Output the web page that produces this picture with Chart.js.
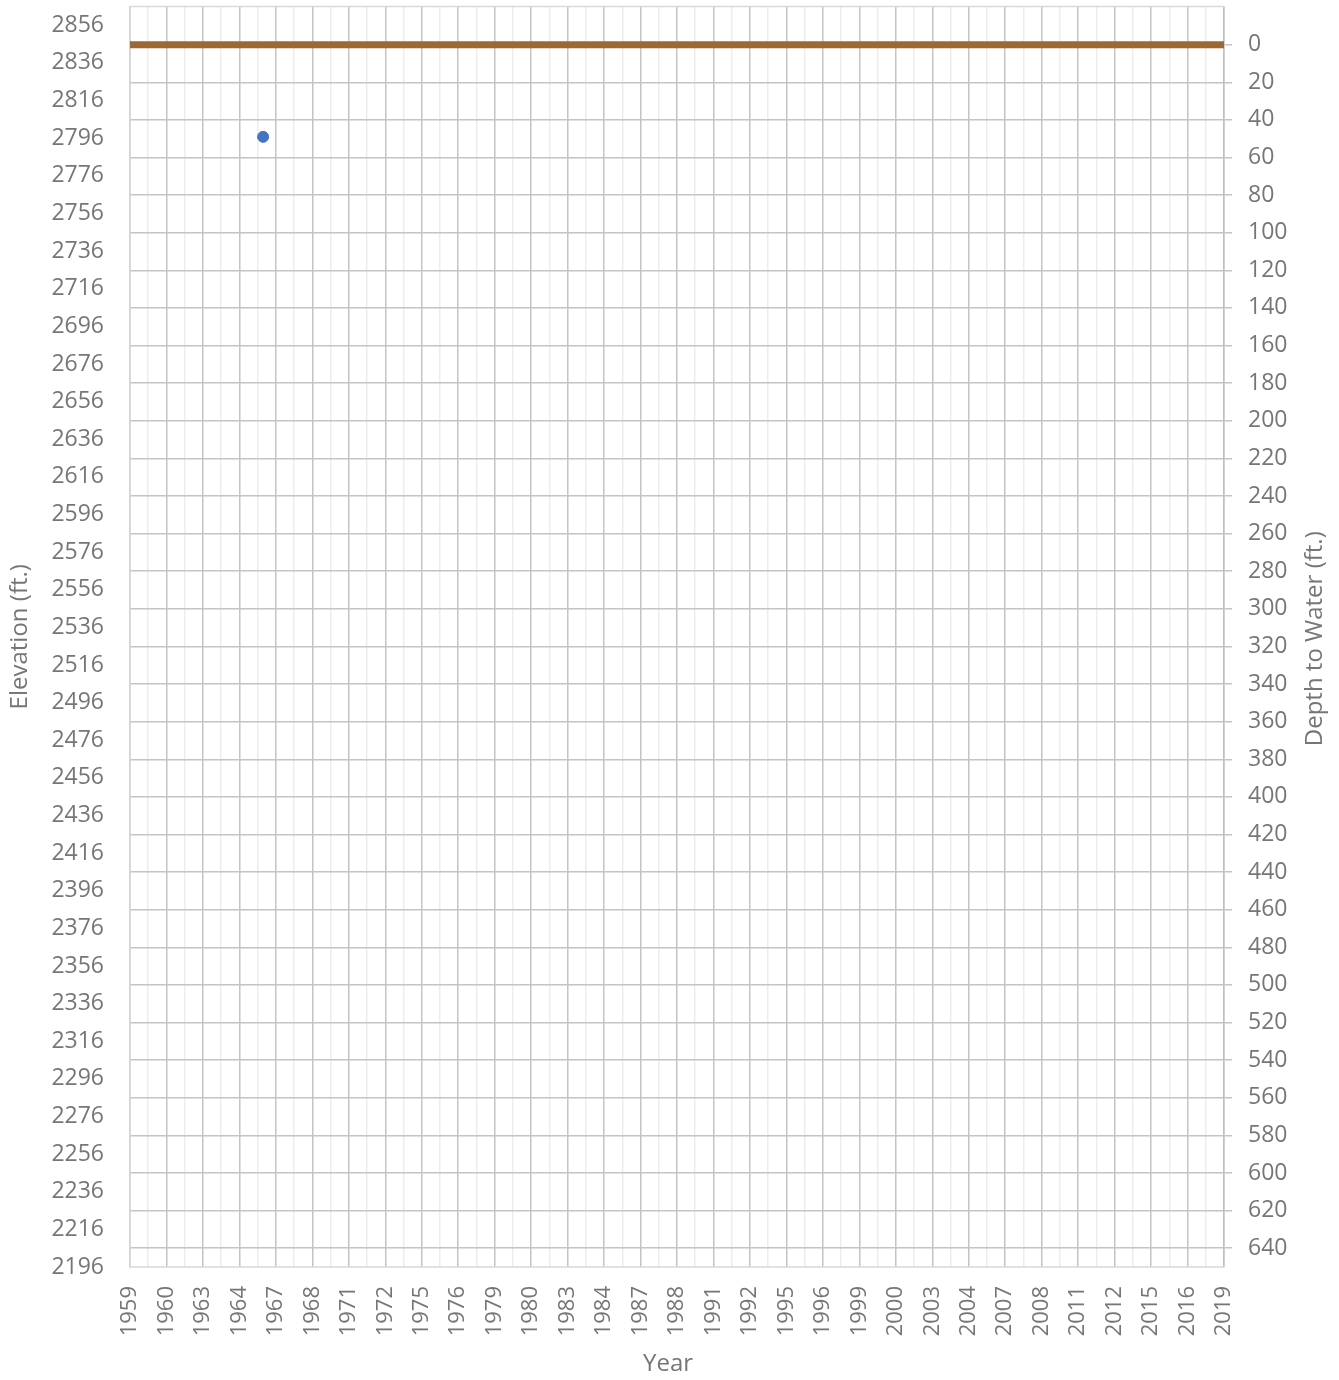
<!DOCTYPE html>
<html>
<head>
<meta charset="utf-8">
<script src="https://cdn.jsdelivr.net/npm/chart.js@4/dist/chart.umd.min.js"></script>
<style>
  html, body { margin: 0; padding: 0; background: #fff; }
  #wrap { width: 1339px; height: 1380px; }
</style>
</head>
<body>
<div id="wrap"><canvas id="chart" width="1339" height="1380"></canvas></div>
<script>
// Year labels shown under each major tick (as printed on the original axis)
const yearLabels = [
  "1959", "1960", "1963", "1964", "1967", "1968", "1971", "1972", "1975", "1976",
  "1979", "1980", "1983", "1984", "1987", "1988", "1991", "1992", "1995", "1996",
  "1999", "2000", "2003", "2004", "2007", "2008", "2011", "2012", "2015", "2016", "2019"
];
const yearStart = 1959;
const yearEnd = 2019;

// Elevation axis (left)
const elevMin = 2196;
const elevMax = 2866;
const elevTicks = [
  2196, 2216, 2236, 2256, 2276, 2296, 2316, 2336, 2356, 2376, 2396, 2416,
  2436, 2456, 2476, 2496, 2516, 2536, 2556, 2576, 2596, 2616, 2636, 2656,
  2676, 2696, 2716, 2736, 2756, 2776, 2796, 2816, 2836, 2856
];

// Depth axis (right, reversed)
const depthMin = -20.3;
const depthMax = 650;
const depthTicks = [
  0, 20, 40, 60, 80, 100, 120, 140, 160, 180, 200, 220, 240, 260, 280, 300, 320,
  340, 360, 380, 400, 420, 440, 460, 480, 500, 520, 540, 560, 580, 600, 620, 640
];

// Measurements: depth to water (ft.)
const measureYears = [1966.3];
const measureDepths = [49];

// Land surface (depth 0 over the whole record)
const landYears = [1959, 2019];
const landDepths = [0, 0];

const GRAY_TEXT = "#767676";
const GRID_MAJOR = "#c4c4c4";
const GRID_MINOR = "#ededed";
const FRAME = "#d9d9d9";
const TITLE_FONT = "24px 'Open Sans'";

// Cadre du graphique (haut, gauche, bas) + titres "Year" et axe droit
const framePlugin = {
  id: "frame",
  beforeDatasetsDraw(chart) {
    const { ctx, chartArea: a } = chart;
    ctx.save();
    ctx.strokeStyle = FRAME;
    ctx.lineWidth = 1.5;
    ctx.beginPath();
    ctx.moveTo(a.right, a.top);
    ctx.lineTo(a.left, a.top);
    ctx.lineTo(a.left, a.bottom);
    ctx.lineTo(a.right, a.bottom);
    ctx.stroke();
    ctx.restore();
  },
  afterDraw(chart) {
    const { ctx, chartArea: a } = chart;
    ctx.save();
    ctx.fillStyle = GRAY_TEXT;
    ctx.font = TITLE_FONT;
    ctx.textAlign = "center";
    ctx.textBaseline = "middle";
    ctx.fillText("Year", 668, 1364);
    ctx.translate(1315, (a.top + a.bottom) / 2 + 2);
    ctx.rotate(-Math.PI / 2);
    ctx.fillText("Depth to Water (ft.)", 0, 0);
    ctx.restore();
  },
};

function zeroPadding(scale) {
  scale.paddingTop = 0;
  scale.paddingBottom = 0;
  scale.paddingLeft = 0;
  scale.paddingRight = 0;
}

const ctx = document.getElementById("chart").getContext("2d");
new Chart(ctx, {
  type: "scatter",
  data: {
    datasets: [
      {
        label: "Depth to Water",
        data: measureYears.map((x, i) => ({ x: x, y: measureDepths[i] })),
        yAxisID: "depth",
        backgroundColor: "#4472C4",
        borderColor: "#4472C4",
        pointRadius: 5.5,
        showLine: false,
      },
      {
        label: "Land Surface",
        type: "line",
        data: landYears.map((x, i) => ({ x: x, y: landDepths[i] })),
        yAxisID: "depth",
        borderColor: "#9C6935",
        borderWidth: 7,
        pointRadius: 0,
        fill: false,
      },
    ],
  },
  options: {
    responsive: false,
    animation: false,
    layout: { padding: { top: 4, left: 0, right: 0, bottom: 0 } },
    plugins: {
      legend: { display: false },
      tooltip: { enabled: false },
    },
    scales: {
      x: {
        type: "linear",
        position: "bottom",
        min: yearStart,
        max: yearEnd,
        afterBuildTicks: (scale) => {
          const t = [];
          for (let v = yearStart; v <= yearEnd; v++) t.push({ value: v });
          scale.ticks = t;
        },
        afterFit: (scale) => {
          scale.height = 113;
          zeroPadding(scale);
        },
        grid: {
          drawTicks: false,
          lineWidth: 1.5,
          color: (c) => (c.index % 2 === 0 ? GRID_MAJOR : GRID_MINOR),
        },
        border: { display: false },
        ticks: {
          autoSkip: false,
          minRotation: 90,
          maxRotation: 90,
          padding: 19,
          color: GRAY_TEXT,
          font: { family: "'Open Sans'", size: 22 },
          callback: (v) => {
            const k = v - yearStart;
            return k % 2 === 0 ? yearLabels[k / 2] : "";
          },
        },
        title: { display: false },
      },
      elev: {
        type: "linear",
        position: "left",
        min: elevMin,
        max: elevMax,
        afterBuildTicks: (scale) => {
          scale.ticks = elevTicks.map((v) => ({ value: v }));
        },
        afterFit: (scale) => {
          scale.width = 130;
          zeroPadding(scale);
        },
        grid: { display: false, drawTicks: false },
        border: { display: false },
        ticks: {
          padding: 26,
          color: GRAY_TEXT,
          font: { family: "'Open Sans'", size: 23 },
          callback: (v) => String(v),
        },
        title: {
          display: true,
          text: "Elevation (ft.)",
          color: GRAY_TEXT,
          font: { family: "'Open Sans'", size: 24 },
          padding: { top: 6, bottom: 0 },
        },
      },
      depth: {
        type: "linear",
        position: "right",
        reverse: true,
        min: depthMin,
        max: depthMax,
        afterBuildTicks: (scale) => {
          scale.ticks = depthTicks.map((v) => ({ value: v }));
        },
        afterFit: (scale) => {
          scale.width = 115;
          zeroPadding(scale);
        },
        grid: {
          drawOnChartArea: true,
          drawTicks: true,
          tickLength: 8,
          lineWidth: 1.5,
          color: GRID_MAJOR,
          tickColor: GRID_MAJOR,
        },
        border: { display: true, color: "#bfbfbf", width: 1.5 },
        ticks: {
          padding: 16,
          color: GRAY_TEXT,
          font: { family: "'Open Sans'", size: 23 },
          callback: (v) => String(v),
        },
      },
    },
  },
  plugins: [framePlugin],
});
</script>
</body>
</html>
